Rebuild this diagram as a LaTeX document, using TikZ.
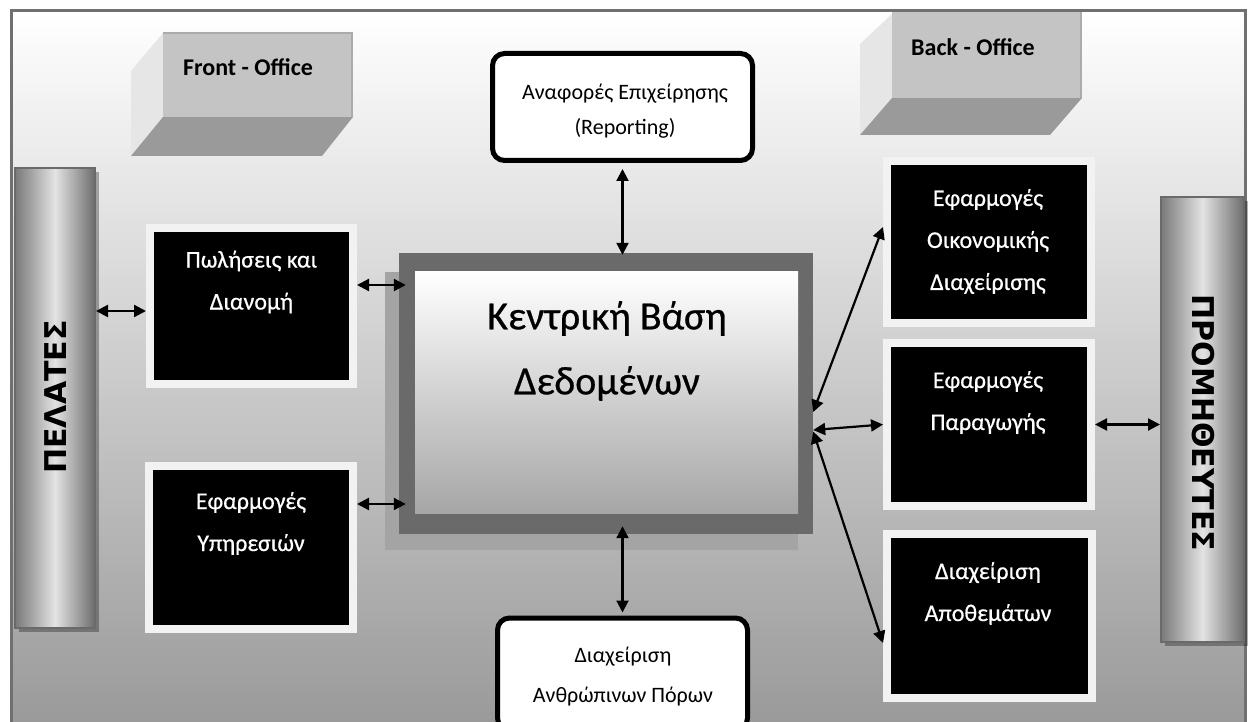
\documentclass[tikz,border=0pt]{standalone}
\usepackage{fontspec}
\setmainfont{Carlito}
\newfontfamily\barfont{DejaVu Sans}
\newfontfamily\heavyfont{Carlito}[FakeBold=0.6]
\usetikzlibrary{arrows.meta,shadows,calc}
\definecolor{framegray}{HTML}{707070}
\definecolor{dbframe}{HTML}{6A6A6A}
\definecolor{dbshadow}{HTML}{A4A4A4}
\definecolor{bgbottom}{HTML}{9A9A9A}
\definecolor{boxwhite}{HTML}{F2F2F2}
\definecolor{facefront}{HTML}{C4C4C4}
\definecolor{faceleft}{HTML}{E6E6E6}
\definecolor{facebottom}{HTML}{9A9A9A}
\definecolor{faceedge}{HTML}{ABABAB}
\begin{document}
\begin{tikzpicture}[x=1pt,y=-1pt,
  appbox/.style={fill=black, draw=boxwhite, line width=8pt, inner sep=0pt,
    drop shadow={shadow xshift=3pt, shadow yshift=-4pt, fill=black, opacity=0.35}},
  apptext/.style={text=white, font=\heavyfont\fontsize{24}{42}\selectfont, align=center},
  roundbox/.style={fill=white, draw=black, line width=5pt, rounded corners=12pt, inner sep=0pt},
  roundtext/.style={align=center, font=\fontsize{22}{35}\selectfont},
  bar/.style={draw=dbframe, line width=2pt, left color=gray!95!black, right color=gray!85!black, middle color=gray!22, inner sep=0pt},
  bartext/.style={font=\barfont\bfseries\fontsize{30}{32}\selectfont},
  officetext/.style={font=\bfseries\fontsize{24}{28}\selectfont},
  biarrow/.style={{Triangle[length=12pt,width=12pt]}-{Triangle[length=12pt,width=12pt]}, line width=2.2pt},
]
\useasboundingbox (0,0) rectangle (1251,722);
\clip (0,0) rectangle (1251,722);
% background and frame
\shade[top color=white, bottom color=bgbottom] (11,11) rectangle (1245,722);
\draw[framegray, line width=3pt] (11,11) rectangle (1245,740);

% Front-Office 3D box
\fill[faceleft] (163,33) -- (131,71) -- (131,156) -- (163,117) -- cycle;
\fill[facebottom] (163,117) -- (353,117) -- (322,156) -- (131,156) -- cycle;
\fill[facefront] (163,32) rectangle (353,117);
\draw[faceedge, line width=2pt] (163,33) -- (352,33) -- (352,117);
\node[officetext] (fo) at (248,67) {Front - Office};

% Back-Office 3D box
\fill[faceleft] (892,14) -- (860,44) -- (860,135) -- (892,98) -- cycle;
\fill[facebottom] (892,98) -- (1082,98) -- (1050,135) -- (860,135) -- cycle;
\fill[facefront] (892,12) rectangle (1082,98);
\draw[faceedge, line width=2pt] (1081,12) -- (1081,98);
\node[officetext] (bo) at (973,47) {Back - Office};

% central database
\fill[dbshadow] (385,272) rectangle (798,550);
\node[fill=dbframe, minimum width=414pt, minimum height=281pt, inner sep=0pt] (db) at (606,393.5) {};
\shade[top color=white, bottom color=gray!70] (415,272) rectangle (798,513);
\node[font=\heavyfont\fontsize{40}{65}\selectfont, align=center] (dbtext) at (607,351) {Κεντρική Βάση\\Δεδομένων};

% reporting and HR
\node[roundbox, minimum width=260pt, minimum height=107pt] (rep) at (622.5,107) {};
\node[roundtext] (rept) at (625,111) {Αναφορές Επιχείρησης\\(Reporting)};
\node[roundbox, minimum width=250pt, minimum height=112pt] (hr) at (622.5,674) {};
\node[roundtext, font=\fontsize{22}{40}\selectfont] (hrt) at (623,677) {Διαχείριση\\Ανθρώπινων Πόρων};

% side bars
\fill[black, opacity=0.3] (19,172) rectangle (99,632);
\node[bar, minimum width=80pt, minimum height=460pt] (cust) at (55,398) {};
\node[bartext, rotate=90] (custt) at (56,397) {ΠΕΛΑΤΕΣ};
\fill[black, opacity=0.3] (1165,201) rectangle (1248,646);
\node[bar, minimum width=83pt, minimum height=445pt] (supp) at (1202.5,419.5) {};
\node[bartext, rotate=-90] (suppt) at (1203,423) {ΠΡΟΜΗΘΕΥΤΕΣ};

% application boxes
\node[appbox, minimum width=203pt, minimum height=156pt] (sales) at (251.5,306) {};
\node[apptext] (salest) at (251.5,282) {Πωλήσεις και\\Διανομή};
\node[appbox, minimum width=204pt, minimum height=163pt] (serv) at (251,547.5) {};
\node[apptext] (servt) at (251,523.5) {Εφαρμογές\\Υπηρεσιών};
\node[appbox, minimum width=204pt, minimum height=162pt] (fin) at (989,242) {};
\node[apptext] (fint) at (988,241.5) {Εφαρμογές\\Οικονομικής\\Διαχείρισης};
\node[appbox, minimum width=204pt, minimum height=163pt] (prod) at (989,424.5) {};
\node[apptext] (prodt) at (988,402.5) {Εφαρμογές\\Παραγωγής};
\node[appbox, minimum width=205pt, minimum height=164pt] (inv) at (989.5,616) {};
\node[apptext] (invt) at (988,593.5) {Διαχείριση\\Αποθεμάτων};

% connectors
\coordinate (s1) at ([yshift=-5pt]sales.west);
\draw[biarrow] (cust.east |- s1) -- (s1);
\coordinate (dbw) at ([xshift=7pt]db.west);
\coordinate (l1) at ([yshift=21pt]sales.east);
\draw[biarrow] (l1) -- (dbw |- l1);
\coordinate (l2) at ([yshift=43.5pt]serv.east);
\draw[biarrow] (l2) -- (dbw |- l2);
\coordinate (rs) at ([yshift=-6pt]rep.south);
\coordinate (dbn) at ([yshift=-2pt]db.north);
\draw[biarrow] (rs) -- (rs |- dbn);
\coordinate (dbs) at ([yshift=8pt]db.south);
\coordinate (hn) at ([yshift=3pt]hr.north);
\draw[biarrow] (hn |- dbs) -- (hn);
\draw[biarrow] ([yshift=-18.5pt]db.east) -- ([yshift=15pt]fin.west);
\draw[biarrow] ([yshift=-36.5pt]db.east) -- (prod.west);
\draw[biarrow] ([yshift=-38pt]db.east) -- ([yshift=-27pt]inv.west);
\draw[biarrow] (prod.east) -- (supp.west |- prod.east);
\end{tikzpicture}
\end{document}
